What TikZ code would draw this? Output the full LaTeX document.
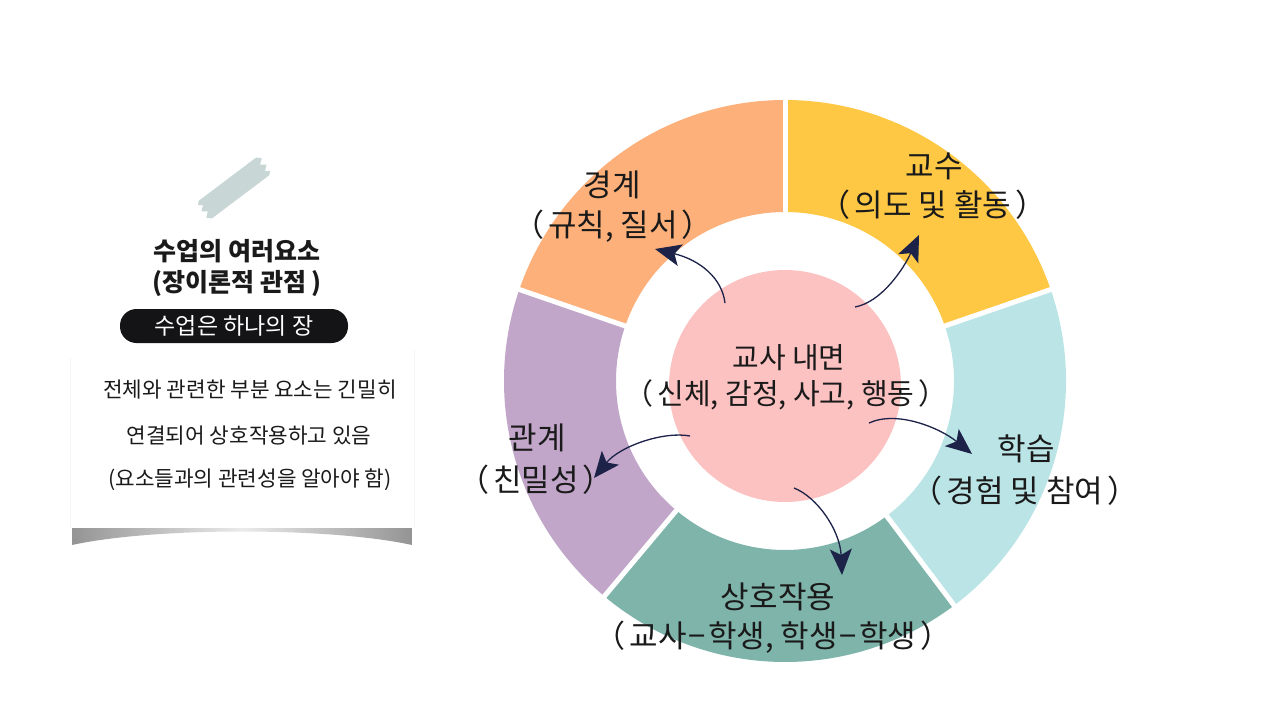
\documentclass[tikz,border=0pt]{standalone}
\usepackage{fontspec}
\newfontfamily\kr{Noto Sans CJK KR}
\usetikzlibrary{arrows.meta,calc}
\definecolor{cOrange}{RGB}{253,176,122}
\definecolor{cYellow}{RGB}{254,200,68}
\definecolor{cCyan}{RGB}{186,228,230}
\definecolor{cTeal}{RGB}{126,180,170}
\definecolor{cPurple}{RGB}{193,166,201}
\definecolor{cPink}{RGB}{252,193,193}
\definecolor{cNavy}{RGB}{28,34,72}
\definecolor{cText}{RGB}{26,26,26}
\definecolor{cPill}{RGB}{20,20,22}
\definecolor{cTape}{RGB}{200,214,214}
\newcommand\ringseg[3]{\fill[#1] ($(C)+(-#2:281)$) arc[start angle=-#2, end angle=-#3, radius=281] -- ($(C)+(-#3:169)$) arc[start angle=-#3, end angle=-#2, radius=169] -- cycle;}
\newcommand\lp{（\hspace{4pt}}
\newcommand\rp{\hspace{4pt}）}
\newcommand\dsh{\hspace{2pt}−\hspace{2pt}}
\begin{document}
\begin{tikzpicture}[x=1pt,y=-1pt,
  seglabel/.style={inner sep=0, text=cText, font=\kr\fontsize{31}{36}\selectfont},
  midlabel/.style={inner sep=0, text=cText, font=\kr\fontsize{29}{34}\selectfont},
  titletext/.style={inner sep=0, text=cText, font=\kr\bfseries\fontsize{25}{29}\selectfont},
  bodytext/.style={inner sep=0, text=cText, font=\kr\fontsize{21.3}{25}\selectfont},
  conn/.style={draw=cNavy, line width=1.3pt, -{Stealth[length=26pt,width=22pt,inset=6pt]}},
  gapline/.style={draw=white, line width=5pt}]
\useasboundingbox (0,0) rectangle (1280,720);
\fill[white] (0,0) rectangle (1280,720);

% ---------- left card ----------
\shade[left color=black!42, right color=black!42, middle color=black!8]
  (72,527) -- (412,527) -- (412,545) .. controls (330,527) and (154,527) .. (72,545) -- cycle;
\fill[white] (70,345) rectangle (414,528);
\draw[black!4, line width=1pt] (70,358) -- (70,528);
\draw[black!4, line width=1pt] (414,350) -- (414,528);

\begin{scope}[shift={(234,188)}, rotate=37]
\fill[cTape] (-36,-11) -- (36,-11) -- (40,-7) -- (35,-3) -- (40,1) -- (35,5) -- (39,8) -- (36,11)
  -- (-36,11) -- (-40,7) -- (-35,3) -- (-40,-1) -- (-35,-5) -- (-39,-8) -- cycle;
\end{scope}

\node[titletext] (title1) at (237,251) {수업의 여러요소};
\node[titletext] (title2) at (237,283) {(장이론적 관점 )};
\node[fill=cPill, rounded corners=16.5pt, minimum width=228pt, minimum height=34pt, inner sep=0,
  text=white, font=\kr\fontsize{23}{27}\selectfont] (pill) at (234,326) {수업은 하나의 장};
\node[bodytext] (body1) at (250,390) {전체와 관련한 부분 요소는 긴밀히};
\node[bodytext] (body2) at (249,436) {연결되어 상호작용하고 있음};
\node[bodytext] (body3) at (250,480) {(요소들과의 관련성을 알아야 함)};

% ---------- ring ----------
\coordinate (C) at (785,381);
\ringseg{cOrange}{90}{161}
\ringseg{cPurple}{161}{230}
\ringseg{cTeal}{230}{307}
\ringseg{cCyan}{307}{379}
\ringseg{cYellow}{19}{90}
\foreach \a in {90,161,230,307,19}
  \draw[gapline] ($(C)+(-\a:164)$) -- ($(C)+(-\a:286)$);

\node[circle, fill=cPink, minimum size=232pt, inner sep=0] (inner) at (785,386) {};

% ---------- labels ----------
\node[seglabel] (gyeong) at (612,185) {경계};
\node[seglabel] (gyeongs) at (613,226) {\lp 규칙, 질서\rp};
\node[seglabel] (gyosu) at (934,166) {교수};
\node[seglabel] (gyosus) at (933,205) {\lp 의도 및 활동\rp};
\node[midlabel] (naemyeon) at (789,358) {교사 내면};
\node[midlabel] (naemyeons) at (786,395) {\lp 신체, 감정, 사고, 행동\rp};
\node[seglabel] (gwan) at (537,438) {관계};
\node[seglabel] (gwans) at (536,480) {\lp 친밀성\rp};
\node[seglabel] (hak) at (1026,449) {학습};
\node[seglabel] (haks) at (1025,491) {\lp 경험 및 참여\rp};
\node[seglabel] (sangho) at (778,597) {상호작용};
\node[seglabel] (sanghos) at (773,637) {\lp 교사\dsh 학생, 학생\dsh 학생\rp};

% ---------- arrows ----------
\coordinate (s1) at (725,303); \coordinate (t1) at (655,249);
\coordinate (s2) at (855,307); \coordinate (t2) at (919,235);
\coordinate (s3) at (869,423); \coordinate (t3) at (972,454);
\coordinate (s4) at (690,436); \coordinate (t4) at (594,478);
\coordinate (s5) at (794,488); \coordinate (t5) at (842,575);
\draw[conn] (s1) .. controls (722,278) and (700,260) .. (t1);
\draw[conn] (s2) .. controls (882,302) and (904,268) .. (t2);
\draw[conn] (s3) .. controls (897,410) and (940,428) .. (t3);
\draw[conn] (s4) .. controls (664,431) and (620,446) .. (t4);
\draw[conn] (s5) .. controls (817,497) and (840,530) .. (t5);
\end{tikzpicture}
\end{document}
